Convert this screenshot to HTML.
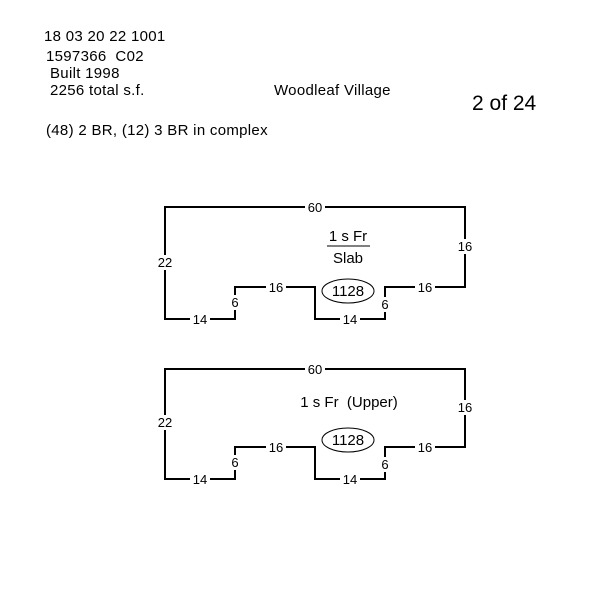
<!DOCTYPE html>
<html><head><style>body{margin:0;background:#fff}svg{display:block}</style></head><body>
<svg width="600" height="600" xmlns="http://www.w3.org/2000/svg" font-family="Liberation Sans, Arial, sans-serif">
<rect width="600" height="600" fill="#fff"/>
<g font-size="15" fill="#000" letter-spacing="0.3">
<text x="44" y="41">18 03 20 22 1001</text>
<text x="46" y="61" xml:space="preserve">1597366  C02</text>
<text x="50" y="78">Built 1998</text>
<text x="50" y="95">2256 total s.f.</text>
<text x="46" y="135">(48) 2 BR, (12) 3 BR in complex</text>
<text x="274" y="95">Woodleaf Village</text>
</g>
<text x="472" y="110" font-size="21">2 of 24</text>
<g fill="none" stroke="#000" stroke-width="2">
<path d="M165,207 H465 V287 H385 V319 H315 V287 H235 V319 H165 Z"/>
<path d="M165,369 H465 V447 H385 V479 H315 V447 H235 V479 H165 Z"/>
</g>
<g font-size="13" text-anchor="middle">
<g>
<rect x="305" y="200" width="20" height="13" fill="#fff"/><text x="315" y="212">60</text>
<rect x="156" y="255" width="18" height="15" fill="#fff"/><text x="165" y="267">22</text>
<rect x="456" y="239" width="18" height="15" fill="#fff"/><text x="465" y="251">16</text>
<rect x="266" y="281" width="20" height="12" fill="#fff"/><text x="276" y="292">16</text>
<rect x="415" y="281" width="20" height="12" fill="#fff"/><text x="425" y="292">16</text>
<rect x="190" y="313" width="20" height="12" fill="#fff"/><text x="200" y="324">14</text>
<rect x="340" y="313" width="20" height="12" fill="#fff"/><text x="350" y="324">14</text>
<rect x="229" y="295" width="12" height="15" fill="#fff"/><text x="235" y="307">6</text>
<rect x="379" y="297" width="12" height="15" fill="#fff"/><text x="385" y="309">6</text>
</g>
<g>
<rect x="305" y="362" width="20" height="13" fill="#fff"/><text x="315" y="374">60</text>
<rect x="156" y="415" width="18" height="15" fill="#fff"/><text x="165" y="427">22</text>
<rect x="456" y="400" width="18" height="15" fill="#fff"/><text x="465" y="412">16</text>
<rect x="266" y="441" width="20" height="12" fill="#fff"/><text x="276" y="452">16</text>
<rect x="415" y="441" width="20" height="12" fill="#fff"/><text x="425" y="452">16</text>
<rect x="190" y="473" width="20" height="12" fill="#fff"/><text x="200" y="484">14</text>
<rect x="340" y="473" width="20" height="12" fill="#fff"/><text x="350" y="484">14</text>
<rect x="229" y="455" width="12" height="15" fill="#fff"/><text x="235" y="467">6</text>
<rect x="379" y="457" width="12" height="15" fill="#fff"/><text x="385" y="469">6</text>
</g>
</g>
<g font-size="15" text-anchor="middle">
<text x="348" y="241">1 s Fr</text>
<line x1="327" y1="246" x2="370" y2="246" stroke="#000" stroke-width="1"/>
<text x="348" y="263">Slab</text>
<ellipse cx="348" cy="291" rx="26" ry="12" fill="none" stroke="#000"/>
<text x="348" y="296">1128</text>
<text x="349" y="407" xml:space="preserve">1 s Fr  (Upper)</text>
<ellipse cx="348" cy="440" rx="26" ry="12" fill="none" stroke="#000"/>
<text x="348" y="445">1128</text>
</g>
</svg>
</body></html>
